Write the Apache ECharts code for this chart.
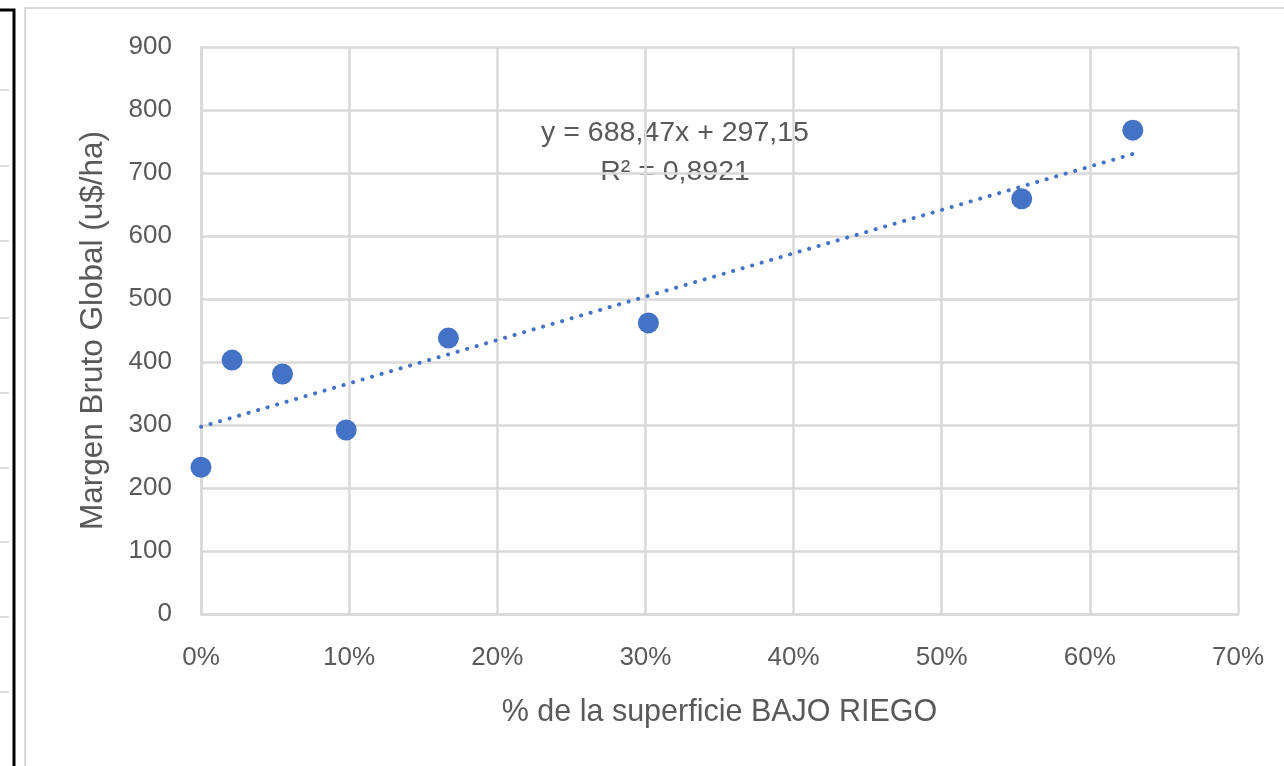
<!DOCTYPE html>
<html>
<head>
<meta charset="utf-8">
<script src="https://cdn.jsdelivr.net/npm/echarts@6/dist/echarts.min.js"></script>
<style>
html,body{margin:0;padding:0;background:#fff;}
#chart{width:1284px;height:766px;}
</style>
</head>
<body>
<div id="chart"></div>
<script>
// Data
const superficieRiego = [0.000, 0.021, 0.055, 0.098, 0.167, 0.302, 0.554, 0.629];
const margenBruto = [233, 403, 381, 292, 438, 462, 659, 768];
const trendX = [0, 0.629];
const trendY = [297.15, 730.2];
const xTicks = [0, 0.1, 0.2, 0.3, 0.4, 0.5, 0.6, 0.7];
const yTicks = [0, 100, 200, 300, 400, 500, 600, 700, 800, 900];
const eqLine1 = 'y = 688,47x + 297,15';
const eqLine2 = 'R² = 0,8921';
const xTitle = '% de la superficie BAJO RIEGO';
const yTitle = 'Margen Bruto Global (u$/ha)';

const FONT = 'Liberation Sans';
const TXT = '#595959';
const GRID = '#d9d9d9';
const BLUE = '#4472C4';

const chart = echarts.init(document.getElementById('chart'));

const leftTicks = [];
[90, 166, 241, 318, 393, 468, 542, 617, 692].forEach(y => {
  leftTicks.push({type:'line', shape:{x1:0,y1:y,x2:9,y2:y}, style:{stroke:'#cfcfcf', lineWidth:1.5}, silent:true});
});

chart.setOption({
  animation:false,
  backgroundColor:'#fff',
  textStyle:{fontFamily:FONT},
  grid:{left:201, right:46, top:47, bottom:152, containLabel:false},
  xAxis:{
    type:'value', min:xTicks[0], max:xTicks[xTicks.length-1], interval:0.1,
    name:xTitle, nameLocation:'middle', nameGap:83,
    nameTextStyle:{color:TXT, fontSize:30.5, fontFamily:FONT},
    axisLine:{show:true, lineStyle:{color:GRID, width:2.5}},
    axisTick:{show:false},
    axisLabel:{color:TXT, fontSize:26, margin:31, fontFamily:FONT,
      formatter:v => Math.round(v*100) + '%'},
    splitLine:{show:true, lineStyle:{color:GRID, width:2.5}}
  },
  yAxis:{
    type:'value', min:yTicks[0], max:yTicks[yTicks.length-1], interval:100,
    name:yTitle, nameLocation:'middle', nameGap:92, nameRotate:90,
    nameTextStyle:{color:TXT, fontSize:31.5, fontFamily:FONT},
    axisLine:{show:true, lineStyle:{color:GRID, width:2.5}},
    axisTick:{show:false},
    axisLabel:{color:TXT, fontSize:26, margin:29, fontFamily:FONT},
    splitLine:{show:true, lineStyle:{color:GRID, width:2.5}}
  },
  series:[
    {
      type:'line',
      data:trendX.map((x,i)=>[x,trendY[i]]),
      symbol:'none',
      lineStyle:{color:BLUE, width:4, type:[0.1,9.8], cap:'round'},
      silent:true,
      z:2
    },
    {
      type:'scatter',
      data:superficieRiego.map((x,i)=>[x,margenBruto[i]]),
      symbol:'circle',
      symbolSize:21,
      itemStyle:{color:BLUE, opacity:1},
      z:3
    }
  ],
  graphic:[
    {type:'rect', shape:{x:25,y:8,width:1290,height:800}, style:{fill:'none', stroke:'#d9d9d9', lineWidth:2}, silent:true, z:-1},
    {type:'polyline', shape:{points:[[0,10],[14,10],[14,780]]}, style:{fill:'none', stroke:'#000', lineWidth:3}, silent:true},
    ...leftTicks,
    {type:'text', style:{text:eqLine1, x:675, y:133, align:'center', verticalAlign:'middle', fill:TXT, fontSize:28.5, fontFamily:FONT}, silent:true},
    {type:'text', style:{text:eqLine2, x:675, y:172, align:'center', verticalAlign:'middle', fill:TXT, fontSize:28.5, fontFamily:FONT}, silent:true}
  ]
});
</script>
</body>
</html>
